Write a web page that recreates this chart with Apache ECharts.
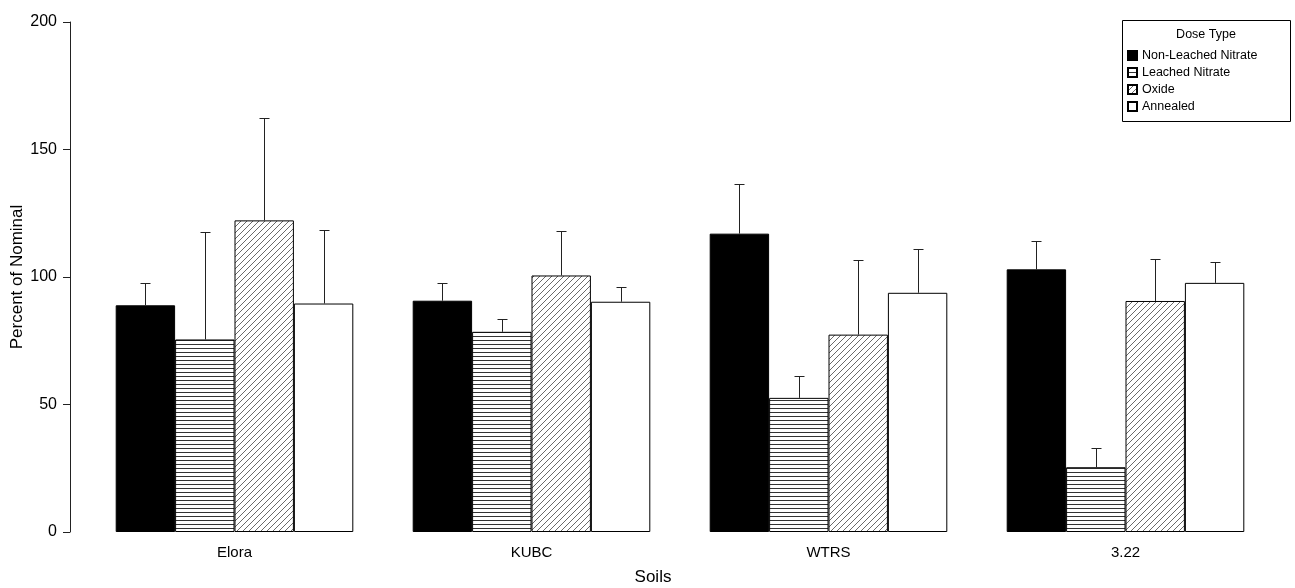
<!DOCTYPE html>
<html>
<head>
<meta charset="utf-8">
<script src="https://cdn.jsdelivr.net/npm/echarts@6/dist/echarts.min.js"></script>
<style>
  html, body { margin: 0; padding: 0; background: #fff; }
  #main { width: 1295px; height: 588px; }
</style>
</head>
<body>
<div id="main"></div>
<script>
// soils on the x axis
var soils = ['Elora', 'KUBC', 'WTRS', '3.22'];
var doseTypes = ['Non-Leached Nitrate', 'Leached Nitrate', 'Oxide', 'Annealed'];

// means (percent of nominal)
var nonLeached = [88.9, 90.7, 117, 103];
var leached = [75.5, 78.5, 52.6, 25.4];
var oxide = [122.2, 100.6, 77.4, 90.6];
var annealed = [89.6, 90.3, 93.8, 97.7];

// top of the error bars
var nonLeachedErr = [97.7, 97.8, 136.5, 114];
var leachedErr = [117.6, 83.5, 61.2, 33.1];
var oxideErr = [162.4, 118.2, 106.5, 107.2];
var annealedErr = [118.4, 96.2, 110.9, 105.7];

var yTicks = [0, 50, 100, 150, 200];

// fill patterns
function makePattern(kind) {
  var c = document.createElement('canvas');
  var ctx = c.getContext('2d');
  if (kind == 'h') {
    c.width = 8; c.height = 4;
    ctx.fillStyle = '#fff';
    ctx.fillRect(0, 0, 8, 4);
    ctx.strokeStyle = '#333';
    ctx.lineWidth = 1;
    ctx.beginPath();
    ctx.moveTo(0, 0.5); ctx.lineTo(8, 0.5);
    ctx.stroke();
  } else {
    var s = 6;
    c.width = s; c.height = s;
    ctx.fillStyle = '#fff';
    ctx.fillRect(0, 0, s, s);
    ctx.strokeStyle = '#444';
    ctx.lineWidth = 0.8;
    ctx.beginPath();
    ctx.moveTo(0, s); ctx.lineTo(s, 0);
    ctx.moveTo(-1, 1); ctx.lineTo(1, -1);
    ctx.moveTo(s - 1, s + 1); ctx.lineTo(s + 1, s - 1);
    ctx.stroke();
  }
  return { image: c, repeat: 'repeat' };
}

var fills = ['#000', makePattern('h'), makePattern('d'), '#fff'];
var means = [nonLeached, leached, oxide, annealed];
var errs = [nonLeachedErr, leachedErr, oxideErr, annealedErr];

var series = [];
doseTypes.forEach(function (name, i) {
  series.push({
    name: name,
    type: 'bar',
    barGap: '0%',
    barCategoryGap: '20%',
    data: means[i],
    itemStyle: { color: fills[i], borderColor: '#000', borderWidth: 1 },
    emphasis: { disabled: true }
  });
});

// error bars (upper only)
var errData = [];
doseTypes.forEach(function (name, i) {
  soils.forEach(function (s, j) {
    errData.push([j, means[i][j], errs[i][j], i]);
  });
});

series.push({
  type: 'custom',
  name: 'err',
  data: errData,
  z: 5,
  renderItem: function (params, api) {
    var j = api.value(0);
    var band = api.size([1, 0])[0];
    var bw = band * 0.8 / 4;
    var x0 = api.coord([j, 0])[0];
    var cx = Math.round(x0 - band * 0.4 + bw * (api.value(3) + 0.5)) + 0.5;
    var base = api.coord([j, api.value(1)])[1];
    var top = Math.round(api.coord([j, api.value(2)])[1]) + 0.5;
    var st = { stroke: '#222', lineWidth: 1 };
    return {
      type: 'group',
      children: [
        { type: 'line', shape: { x1: cx, y1: base, x2: cx, y2: top }, style: st },
        { type: 'line', shape: { x1: cx - 5, y1: top, x2: cx + 5, y2: top }, style: st }
      ]
    };
  }
});

var myChart = echarts.init(document.getElementById('main'));
myChart.setOption({
  animation: false,
  textStyle: { fontFamily: 'Liberation Sans', color: '#000' },
  grid: { left: 86, right: 21, top: 22, bottom: 56, outerBoundsMode: 'none', containLabel: false },
  legend: {
    data: doseTypes,
    orient: 'vertical',
    left: 1127,
    top: 49,
    padding: 0,
    icon: 'rect',
    itemWidth: 9,
    itemHeight: 9,
    itemGap: 4,
    selectedMode: false,
    textStyle: { fontSize: 12.5, color: '#000', fontFamily: 'Liberation Sans' }
  },
  xAxis: {
    type: 'category',
    data: soils,
    axisLine: { show: false },
    axisTick: { show: false },
    axisLabel: { fontSize: 15, color: '#000', margin: 13 }
  },
  yAxis: {
    type: 'value',
    min: yTicks[0],
    max: yTicks[yTicks.length - 1],
    interval: 50,
    offset: 16,
    name: 'Percent of Nominal',
    nameLocation: 'middle',
    nameGap: 44,
    nameMoveOverlap: false,
    nameTextStyle: { fontSize: 17, color: '#000' },
    axisLine: { show: true, lineStyle: { color: '#222', width: 1 } },
    axisTick: { show: true, length: 7, lineStyle: { color: '#222' } },
    axisLabel: { fontSize: 16, color: '#000', margin: 13 },
    splitLine: { show: false }
  },
  graphic: [
    {
      type: 'rect',
      shape: { x: 1122.5, y: 20.5, width: 168, height: 101 },
      style: { fill: 'none', stroke: '#000', lineWidth: 1 }
    },
    {
      type: 'text',
      x: 1206, y: 35,
      style: { text: 'Dose Type', fontSize: 12.5, fontFamily: 'Liberation Sans', fill: '#000', align: 'center', verticalAlign: 'middle' }
    },
    {
      type: 'text',
      x: 653, y: 577,
      style: { text: 'Soils', fontSize: 17, fontFamily: 'Liberation Sans', fill: '#000', align: 'center', verticalAlign: 'middle' }
    }
  ],
  series: series
});
</script>
</body>
</html>
